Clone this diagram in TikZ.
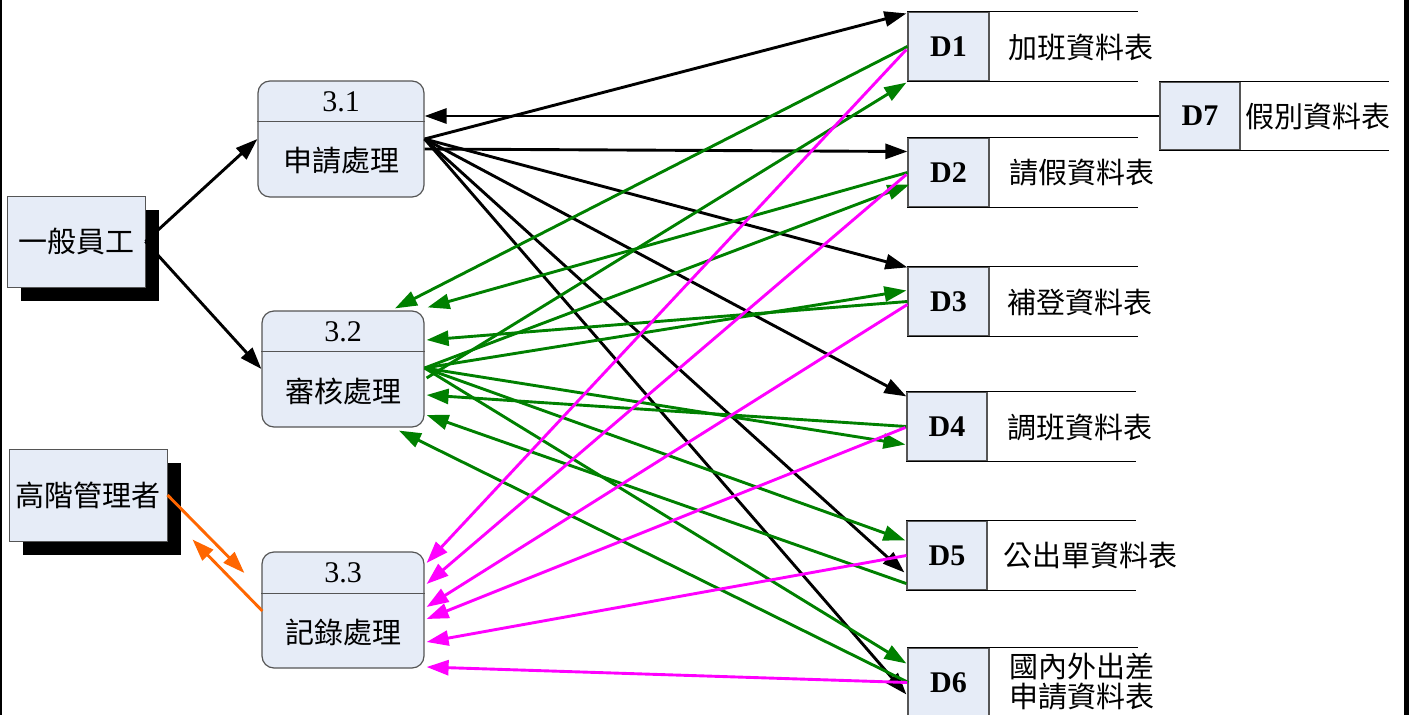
\documentclass[tikz,border=0pt]{standalone}
\usepackage{fontspec}
\setmainfont{Liberation Serif}
\newfontfamily\cjk{Noto Sans CJK TC}
\usetikzlibrary{arrows.meta,calc,shadows}
\definecolor{boxfill}{RGB}{230,236,247}
\definecolor{dgreen}{RGB}{0,128,0}
\definecolor{mag}{RGB}{255,0,255}
\definecolor{orng}{RGB}{255,102,0}
\definecolor{edgec}{RGB}{85,85,85}
\begin{document}
\begin{tikzpicture}[x=1pt,y=-1pt,
  proc/.style={draw=edgec, line width=1.2pt, fill=boxfill, rounded corners=12pt, minimum height=116pt, inner sep=0pt},
  divl/.style={draw=edgec, line width=1.2pt},
  num/.style={font=\fontsize{30}{32}\selectfont, inner sep=0pt},
  pname/.style={font=\cjk\fontsize{29}{30}\selectfont, inner sep=0pt},
  ent/.style={draw=edgec, line width=1pt, fill=boxfill, inner sep=0pt, font=\cjk\fontsize{29}{30}\selectfont,
    drop shadow={shadow xshift=14pt, shadow yshift=-14pt, fill=black, opacity=1}},
  dstore/.style={draw=edgec, line width=1.2pt, fill=boxfill, minimum width=81pt, minimum height=69pt, inner sep=0pt, font=\bfseries\fontsize{30}{32}\selectfont},
  sline/.style={line width=1.6pt, black},
  stext/.style={font=\cjk\fontsize{29}{30}\selectfont, inner sep=0pt, align=center},
  arr/.style={-{Triangle[length=22pt,width=15pt]}, line width=2.9pt},
  blk/.style={arr, black},
  grn/.style={arr, dgreen},
  mgt/.style={arr, mag},
  org/.style={arr, orng}
]
\path[use as bounding box] (0,0) rectangle (1409,715);
\clip (0,0) rectangle (1409,715);

% frame edges
\fill[black] (0,0) rectangle (2,715);
\fill[black] (1404,0) rectangle (1409,715);

% external entities
\node[ent, minimum width=138pt, minimum height=91pt] (e1) at (76,241.5) {一般員工};
\node[ent, minimum width=158pt, minimum height=92pt] (e2) at (88,495) {高階管理者};

% processes
\node[proc, minimum width=166pt] (p31) at (341,139) {};
\draw[divl] ($(p31.north west)+(0,41)$) -- ($(p31.north east)+(0,41)$);
\node[num] (n31) at ($(p31.north)+(0,21)$) {3.1};
\node[pname] (t31) at ($(p31.center)+(0,22)$) {申請處理};

\node[proc, minimum width=162pt] (p32) at (343,369) {};
\draw[divl] ($(p32.north west)+(0,41)$) -- ($(p32.north east)+(0,41)$);
\node[num] (n32) at ($(p32.north)+(0,21)$) {3.2};
\node[pname] (t32) at ($(p32.center)+(0,22)$) {審核處理};

\node[proc, minimum width=162pt] (p33) at (343,610) {};
\draw[divl] ($(p33.north west)+(0,42)$) -- ($(p33.north east)+(0,42)$);
\node[num] (n33) at ($(p33.north)+(0,21)$) {3.3};
\node[pname] (t33) at ($(p33.center)+(0,22)$) {記錄處理};

% data stores
\node[dstore] (d1) at (948.5,46.5) {D1};
\node[dstore] (d2) at (948.5,172.5) {D2};
\node[dstore] (d3) at (948.5,301.5) {D3};
\node[dstore, minimum width=80pt] (d4) at (947,426.5) {D4};
\node[dstore, minimum width=80pt] (d5) at (947,555.5) {D5};
\node[dstore] (d6) at (948.5,682.5) {D6};
\node[dstore, minimum width=80pt, minimum height=68pt] (d7) at (1200,116) {D7};
\foreach \d/\l in {d1/231,d2/231,d3/231,d4/230,d5/230,d6/231,d7/230}{
  \draw[sline] (\d.north west) -- ++(\l,0);
  \draw[sline] (\d.south west) -- ++(\l,0);
}
\node[stext] (s1) at (1081,47) {加班資料表};
\node[stext] (s2) at (1082,173) {請假資料表};
\node[stext] (s3) at (1080,302) {補登資料表};
\node[stext] (s4) at (1080,427) {調班資料表};
\node[stext] (s5) at (1090,555) {公出單資料表};
\node[stext] (s6) at (1082,682) {國內外出差\\申請資料表};
\node[stext] (s7) at (1318,116) {假別資料表};

% black flows
\draw[blk] (e1.east) -- (p31.west);
\draw[blk] (e1.east) -- (p32.west);
\draw[blk] (p31.east) -- ($(d1.north west)+(-1,2)$);
\draw[blk] (d7.west) -- ($(p31.east)+(0,-23)$);
\draw[blk] ($(p31.east)+(0,10)$) -- ($(d2.west)+(0,-21)$);
\draw[blk] (p31.east) -- ($(d3.north west)+(0,1)$);
\draw[blk] (p31.east) -- ($(d4.north west)+(0,5)$);
\draw[blk] (p31.east) -- ($(d5.west)+(-2,17)$);
\draw[blk] (p31.east) -- ($(d6.west)+(-1,12)$);

% green flows
\draw[grn] (d1.west) -- ($(p32.north)+(52,-2)$);
\draw[grn] (d2.west) -- ($(p32.north east)+(3,-3)$);
\draw[grn] (d3.west) -- ($(p32.east)+(2,-29)$);
\draw[grn] (d4.west) -- ($(p32.east)+(2,26)$);
\draw[grn] ($(d5.south west)+(0,-7)$) -- ($(p32.east)+(2,46)$);
\draw[grn] ($(d6.west)+(1,0)$) -- ($(p32.south)+(56,3)$);
\draw[grn] ($(p32.east)+(2,9)$) -- ($(d1.south west)+(-1,1)$);
\draw[grn] ($(p32.east)+(0,-1)$) -- ($(d2.west)+(2,12)$);
\draw[grn] ($(p32.east)+(0,-1)$) -- ($(d3.west)+(-1,-11)$);
\draw[grn] ($(p32.east)+(0,-1)$) -- ($(d4.west)+(-1,18)$);
\draw[grn] ($(p32.east)+(0,-1)$) -- ($(d5.west)+(-1,-15)$);
\draw[grn] ($(p32.east)+(0,-1)$) -- ($(d6.west)+(-1,-19)$);

% magenta flows
\draw[mgt] ($(d1.west)+(-1,3)$) -- ($(p33.east)+(2,-47)$);
\draw[mgt] ($(d2.west)+(-1,2)$) -- ($(p33.east)+(2,-26)$);
\draw[mgt] ($(d3.west)+(0,3)$) -- ($(p33.east)+(2,-3)$);
\draw[mgt] ($(d4.west)+(-1,1)$) -- ($(p33.east)+(2,9)$);
\draw[mgt] (d5.west) -- ($(p33.east)+(2,32)$);
\draw[mgt] (d6.west) -- ($(p33.east)+(2,57)$);

% orange flows
\draw[org] (e2.east) -- ($(p33.west)+(-17,-37)$);
\draw[org] ($(p33.west)+(1,1)$) -- ($(e2.south east)+(25,-2)$);
\end{tikzpicture}
\end{document}
